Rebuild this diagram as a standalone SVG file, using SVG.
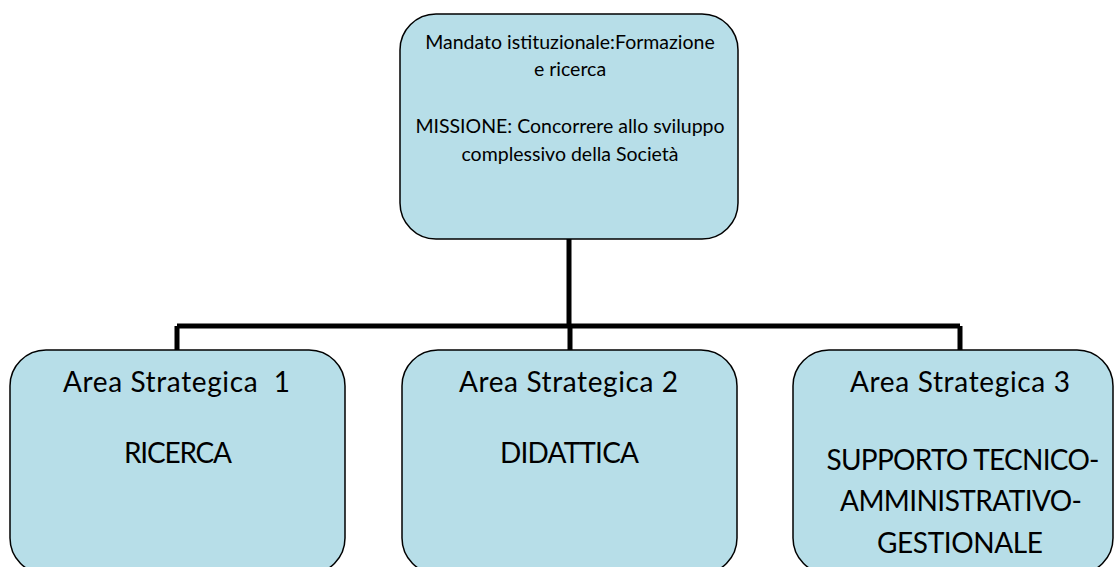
<svg xmlns="http://www.w3.org/2000/svg" width="1116" height="567" viewBox="0 0 1116 567">
<style>
.box{fill:#B7DEE8;stroke:#000;stroke-width:1.5}
.t{font-family:Lato,"Liberation Sans",sans-serif;fill:#000;text-anchor:middle}
.s{font-size:19.5px}
.b{font-size:28px}
.c{fill:none;stroke:#000;stroke-width:5}
</style>
<rect width="1116" height="567" fill="#fff"/>
<g id="connectors">
<path class="c" d="M569 239V326M177 326H960M177 326V350M570 326V350M960 326V350"/>
</g>
<g id="top">
<rect class="box" x="400" y="14" width="338" height="225" rx="36"/>
<text class="t s" x="570" y="49">Mandato istituzionale:Formazione</text>
<text class="t s" x="570" y="76">e ricerca</text>
<text class="t s" x="570" y="133">MISSIONE: Concorrere allo sviluppo</text>
<text class="t s" x="570" y="161">complessivo della Società</text>
</g>
<g id="area1">
<rect class="box" x="10" y="350" width="335" height="224" rx="36"/>
<text class="t b" x="176.5" y="392" xml:space="preserve" textLength="227" lengthAdjust="spacing">Area Strategica  1</text>
<text class="t b" x="178" y="463" textLength="108" lengthAdjust="spacing">RICERCA</text>
</g>
<g id="area2">
<rect class="box" x="402" y="350" width="335" height="224" rx="36"/>
<text class="t b" x="568.5" y="392" textLength="219" lengthAdjust="spacing">Area Strategica 2</text>
<text class="t b" x="569.5" y="463" textLength="139" lengthAdjust="spacing">DIDATTICA</text>
</g>
<g id="area3">
<rect class="box" x="793" y="350" width="320" height="224" rx="36"/>
<text class="t b" x="960" y="392" textLength="220" lengthAdjust="spacing">Area Strategica 3</text>
<text class="t b" x="963" y="470" textLength="273" lengthAdjust="spacing">SUPPORTO TECNICO-</text>
<text class="t b" x="961" y="511" textLength="242" lengthAdjust="spacing">AMMINISTRATIVO-</text>
<text class="t b" x="960" y="553" textLength="166" lengthAdjust="spacing">GESTIONALE</text>
</g>
</svg>
